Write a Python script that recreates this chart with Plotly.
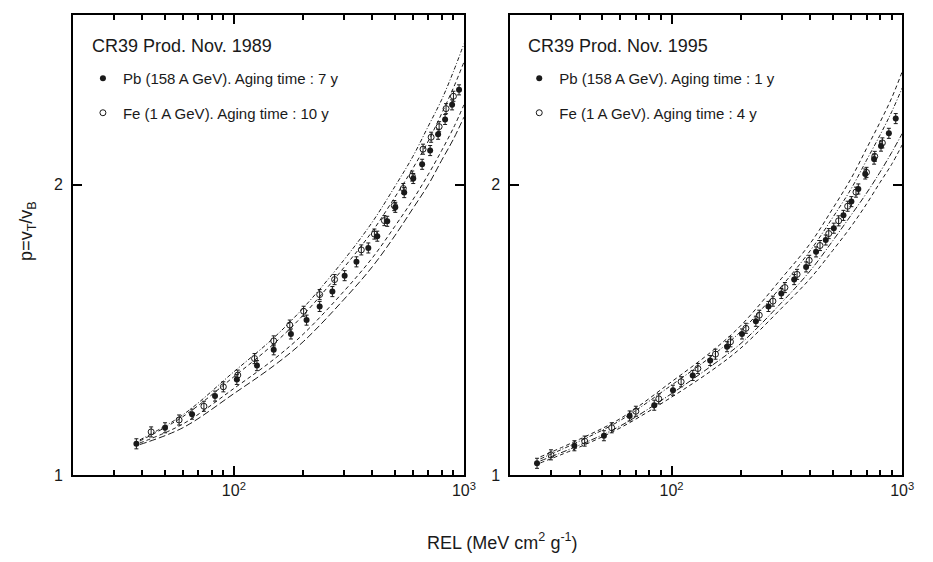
import plotly.graph_objects as go

# ---------------- CR39 produced Nov. 1989 ----------------
pb89_rel = [37.7, 50.2, 65.8, 82.8, 103, 126, 149, 177, 207, 236, 268, 303,
            341, 384, 420, 464, 503, 550, 602, 658, 713, 772, 828, 888, 952]
pb89_p = [1.078, 1.120, 1.157, 1.208, 1.257, 1.299, 1.349, 1.401, 1.448, 1.496,
          1.550, 1.610, 1.664, 1.720, 1.769, 1.833, 1.895, 1.963, 2.030, 2.100,
          2.170, 2.256, 2.337, 2.420, 2.508]
fe89_rel = [43.7, 57.8, 74.1, 90, 104, 123, 149, 175, 201, 236, 274, 358, 408,
            451, 498, 545, 596, 664, 720, 780, 836, 900]
fe89_p = [1.109, 1.141, 1.179, 1.235, 1.270, 1.321, 1.378, 1.431, 1.479, 1.539,
          1.595, 1.712, 1.778, 1.836, 1.903, 1.982, 2.042, 2.177, 2.240, 2.297,
          2.398, 2.470]

curve89_rel = [39, 60, 100, 150, 200, 300, 400, 500, 600, 700, 800, 900, 1000]
curve89_a = [1.088, 1.155, 1.280, 1.390, 1.490, 1.670, 1.830, 1.990, 2.140, 2.300, 2.450, 2.620, 2.800]
curve89_b = [1.085, 1.150, 1.265, 1.370, 1.465, 1.640, 1.790, 1.940, 2.080, 2.220, 2.370, 2.520, 2.680]
curve89_c = [1.080, 1.130, 1.230, 1.320, 1.400, 1.550, 1.680, 1.810, 1.930, 2.050, 2.170, 2.290, 2.420]
curve89_d = [1.076, 1.120, 1.215, 1.300, 1.375, 1.520, 1.645, 1.770, 1.890, 2.000, 2.120, 2.230, 2.350]

# ---------------- CR39 produced Nov. 1995 ----------------
pb95_rel = [26.1, 37.9, 50.9, 65.8, 84.1, 101.4, 123.5, 147, 174, 202, 232, 263,
            299, 340, 383, 423, 466, 505, 556, 602, 645, 691, 755, 809, 875, 937]
pb95_p = [1.029, 1.073, 1.099, 1.152, 1.182, 1.225, 1.269, 1.315, 1.359, 1.401,
          1.444, 1.496, 1.543, 1.595, 1.644, 1.704, 1.753, 1.803, 1.859, 1.921,
          1.980, 2.052, 2.126, 2.193, 2.261, 2.342]
fe95_rel = [30, 42, 55, 70, 88, 110, 130, 155, 180, 210, 240, 275, 310, 350,
            395, 440, 480, 530, 580, 630, 700, 760, 820]
fe95_p = [1.050, 1.085, 1.120, 1.165, 1.200, 1.250, 1.290, 1.335, 1.375, 1.420,
          1.465, 1.515, 1.565, 1.615, 1.670, 1.730, 1.780, 1.835, 1.900, 1.965,
          2.060, 2.140, 2.210]

curve95_rel = [27, 40, 60, 100, 150, 200, 300, 400, 500, 600, 700, 800, 900, 1000]
curve95_a = [1.045, 1.090, 1.145, 1.250, 1.345, 1.430, 1.600, 1.740, 1.890, 2.030, 2.180, 2.320, 2.460, 2.620]
curve95_b = [1.040, 1.085, 1.140, 1.240, 1.330, 1.410, 1.570, 1.710, 1.850, 1.980, 2.120, 2.250, 2.380, 2.520]
curve95_c = [1.035, 1.075, 1.125, 1.215, 1.300, 1.370, 1.510, 1.630, 1.750, 1.860, 1.960, 2.060, 2.160, 2.260]
curve95_d = [1.030, 1.070, 1.120, 1.205, 1.285, 1.355, 1.490, 1.600, 1.710, 1.810, 1.910, 2.010, 2.100, 2.200]

panels = [
    dict(xa="x", ya="y", legend="legend", year="1989",
         pb=(pb89_rel, pb89_p), fe=(fe89_rel, fe89_p),
         pb_label="Pb (158 A GeV). Aging time : 7 y",
         fe_label="Fe (1 A GeV). Aging time : 10 y",
         curves=(curve89_rel, [curve89_a, curve89_b, curve89_c, curve89_d]),
         dashes=["4px,2px,1px,2px", "4px,3px", "4px,3px", "7px,3px"]),
    dict(xa="x2", ya="y2", legend="legend2", year="1995",
         pb=(pb95_rel, pb95_p), fe=(fe95_rel, fe95_p),
         pb_label="Pb (158 A GeV). Aging time : 1 y",
         fe_label="Fe (1 A GeV). Aging time : 4 y",
         curves=(curve95_rel, [curve95_a, curve95_b, curve95_c, curve95_d]),
         dashes=["4px,3px", "4px,2px,1px,2px", "6px,2px,1px,2px", "4px,3px"]),
]

INK = "#1a1a1a"
FONT = "Liberation Sans"
fig = go.Figure()

for pnl in panels:
    rel, sets = pnl["curves"]
    for vals, dash in zip(sets, pnl["dashes"]):
        fig.add_trace(go.Scatter(
            x=rel, y=vals, mode="lines", xaxis=pnl["xa"], yaxis=pnl["ya"],
            line=dict(color=INK, width=1, dash=dash, shape="spline"),
            showlegend=False, hoverinfo="skip"))
    fig.add_trace(go.Scatter(
        x=pnl["pb"][0], y=pnl["pb"][1], mode="markers", name=pnl["pb_label"],
        xaxis=pnl["xa"], yaxis=pnl["ya"], legend=pnl["legend"], legendgroup="pb" + pnl["year"],
        marker=dict(symbol="circle", size=6, color=INK),
        error_y=dict(type="percent", value=1.2, color=INK, thickness=1, width=2)))
    fig.add_trace(go.Scatter(
        x=pnl["fe"][0], y=pnl["fe"][1], mode="markers", name=pnl["fe_label"],
        xaxis=pnl["xa"], yaxis=pnl["ya"], legend=pnl["legend"], legendgroup="fe" + pnl["year"],
        marker=dict(symbol="circle-open", size=6, color=INK, line=dict(width=1)),
        error_y=dict(type="percent", value=1.2, color=INK, thickness=1, width=2)))

W, H = 933, 562
minor_vals = [20, 30, 40, 50, 60, 70, 80, 90, 200, 300, 400, 500, 600, 700, 800, 900]

def xaxis(domain):
    return dict(
        type="log", range=[1.30103, 3], domain=domain,
        showline=True, linecolor="black", linewidth=2, mirror="ticks",
        ticks="inside", ticklen=9, tickwidth=2, tickcolor="black",
        tickvals=[100, 1000], ticktext=["10<sup>2</sup>", "10<sup>3</sup>"],
        minor=dict(tickvals=minor_vals, ticks="inside", ticklen=5, tickwidth=2, tickcolor="black"),
        showgrid=False, zeroline=False,
        tickfont=dict(family=FONT, size=16, color=INK))

def yaxis(domain, anchor):
    return dict(
        type="log", range=[0, 0.47712], domain=domain, anchor=anchor,
        showline=True, linecolor="black", linewidth=2, mirror="ticks",
        ticks="inside", ticklen=9, tickwidth=2, tickcolor="black",
        tickvals=[1, 2], ticktext=["1", "2"],
        showgrid=False, zeroline=False, ticklabelstandoff=5,
        tickfont=dict(family=FONT, size=16, color=INK))

ydom = [1 - 483 / H, 1 - 15 / H]

def legend_box(x_px):
    return dict(
        x=x_px / W, y=1 - 63 / H, xanchor="left", yanchor="top",
        bgcolor="rgba(0,0,0,0)", traceorder="grouped", tracegroupgap=12,
        itemwidth=30,
        font=dict(family=FONT, size=15, color=INK))

def panel_title(x_px, text):
    return dict(text=text, xref="paper", yref="paper", x=x_px / W, y=1 - 47 / H,
                xanchor="left", yanchor="middle", showarrow=False,
                font=dict(family=FONT, size=18, color=INK))

fig.update_layout(
    width=W, height=H, autosize=False,
    margin=dict(l=0, r=0, t=0, b=0),
    paper_bgcolor="white", plot_bgcolor="white",
    xaxis=xaxis([74 / W, 470 / W]),
    yaxis=yaxis(ydom, "x"),
    xaxis2=xaxis([517 / W, 914 / W]),
    yaxis2=yaxis(ydom, "x2"),
    legend=legend_box(84),
    legend2=legend_box(526),
    annotations=[
        panel_title(91, "CR39 Prod. Nov. 1989"),
        panel_title(533, "CR39 Prod. Nov. 1995"),
        dict(text="p=v<sub>T</sub>/v<sub>B</sub>", xref="paper", yref="paper",
             x=28 / W, y=1 - 235 / H, xanchor="center", yanchor="middle",
             textangle=-90, showarrow=False,
             font=dict(family=FONT, size=18, color=INK)),
        dict(text="REL (MeV cm<sup>2</sup> g<sup>-1</sup>)", xref="paper", yref="paper",
             x=509 / W, y=1 - 550 / H, xanchor="center", yanchor="middle", showarrow=False,
             font=dict(family=FONT, size=18, color=INK)),
    ],
)

fig.write_html("out.html")
